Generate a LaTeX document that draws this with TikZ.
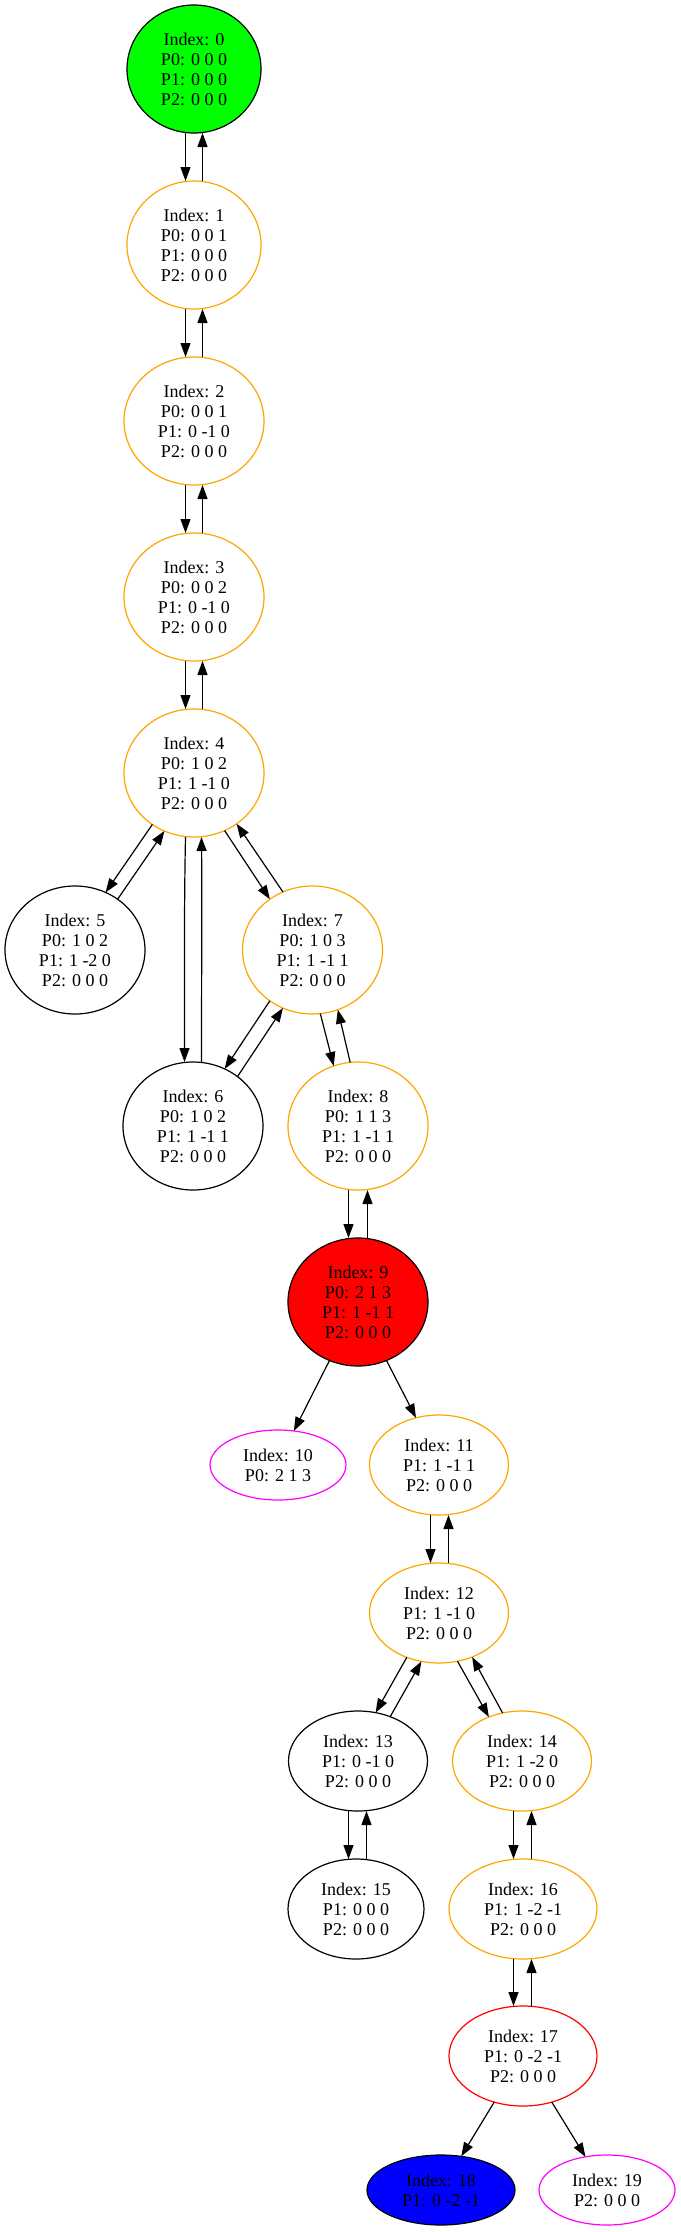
\documentclass[tikz,border=0pt]{standalone}
\usepackage{fontspec}
\setmainfont{Liberation Serif}
\usetikzlibrary{shapes.geometric,arrows.meta}
\definecolor{gvorange}{HTML}{FFA500}
\definecolor{gvgreen}{HTML}{00FF00}
\definecolor{gvred}{HTML}{FF0000}
\definecolor{gvblue}{HTML}{0000FF}
\definecolor{gvmagenta}{HTML}{FF00FF}
\begin{document}
\begin{tikzpicture}[x=1pt,y=-1pt,
  st/.style={ellipse, draw=black, line width=1.2pt, inner sep=0pt, outer sep=0pt,
    align=center, font=\fontsize{18}{20}\selectfont},
  fourz/.style={minimum width=134pt, minimum height=128pt},
  four/.style={minimum width=140pt, minimum height=128pt},
  threez/.style={minimum width=136pt, minimum height=100pt},
  three/.style={minimum width=139pt, minimum height=100pt},
  threew/.style={minimum width=148pt, minimum height=100pt},
  two/.style={minimum width=136pt, minimum height=70pt},
  twow/.style={minimum width=148pt, minimum height=70pt},
  e/.style={-{Triangle[length=14pt,width=10pt]}, line width=1.2pt}]
\useasboundingbox (0,0) rectangle (680,2232);
\node[st,fourz,fill=gvgreen] (n0) at (194,69) {Index: 0\\P0: 0 0 0\\P1: 0 0 0\\P2: 0 0 0};
\node[st,fourz,draw=gvorange] (n1) at (194,245) {Index: 1\\P0: 0 0 1\\P1: 0 0 0\\P2: 0 0 0};
\node[st,four,draw=gvorange] (n2) at (194,421) {Index: 2\\P0: 0 0 1\\P1: 0 -1 0\\P2: 0 0 0};
\node[st,four,draw=gvorange] (n3) at (194,597) {Index: 3\\P0: 0 0 2\\P1: 0 -1 0\\P2: 0 0 0};
\node[st,four,draw=gvorange] (n4) at (194,773) {Index: 4\\P0: 1 0 2\\P1: 1 -1 0\\P2: 0 0 0};
\node[st,four] (n5) at (75,950) {Index: 5\\P0: 1 0 2\\P1: 1 -2 0\\P2: 0 0 0};
\node[st,four] (n6) at (193,1126) {Index: 6\\P0: 1 0 2\\P1: 1 -1 1\\P2: 0 0 0};
\node[st,four,draw=gvorange] (n7) at (312.5,950) {Index: 7\\P0: 1 0 3\\P1: 1 -1 1\\P2: 0 0 0};
\node[st,four,draw=gvorange] (n8) at (358,1126) {Index: 8\\P0: 1 1 3\\P1: 1 -1 1\\P2: 0 0 0};
\node[st,four,fill=gvred] (n9) at (358,1302) {Index: 9\\P0: 2 1 3\\P1: 1 -1 1\\P2: 0 0 0};
\node[st,two,draw=gvmagenta] (n10) at (278,1465) {Index: 10\\P0: 2 1 3};
\node[st,three,draw=gvorange] (n11) at (439,1465) {Index: 11\\P1: 1 -1 1\\P2: 0 0 0};
\node[st,three,draw=gvorange] (n12) at (439,1613) {Index: 12\\P1: 1 -1 0\\P2: 0 0 0};
\node[st,three] (n13) at (358,1761) {Index: 13\\P1: 0 -1 0\\P2: 0 0 0};
\node[st,three,draw=gvorange] (n14) at (522,1761) {Index: 14\\P1: 1 -2 0\\P2: 0 0 0};
\node[st,threez] (n15) at (356,1909) {Index: 15\\P1: 0 0 0\\P2: 0 0 0};
\node[st,threew,draw=gvorange] (n16) at (523,1909) {Index: 16\\P1: 1 -2 -1\\P2: 0 0 0};
\node[st,threew,draw=gvred] (n17) at (523,2056) {Index: 17\\P1: 0 -2 -1\\P2: 0 0 0};
\node[st,twow,fill=gvblue] (n18) at (441,2190) {Index: 18\\P1: 0 -2 -1};
\node[st,two,draw=gvmagenta] (n19) at (607,2190) {Index: 19\\P2: 0 0 0};
% vertical pairs
\draw[e] ([xshift=-8.5pt]n0.south) -- ([xshift=-8.5pt]n1.north);
\draw[e] ([xshift=8.5pt]n1.north) -- ([xshift=8.5pt]n0.south);
\draw[e] ([xshift=-8.5pt]n1.south) -- ([xshift=-8.5pt]n2.north);
\draw[e] ([xshift=8.5pt]n2.north) -- ([xshift=8.5pt]n1.south);
\draw[e] ([xshift=-8.5pt]n2.south) -- ([xshift=-8.5pt]n3.north);
\draw[e] ([xshift=8.5pt]n3.north) -- ([xshift=8.5pt]n2.south);
\draw[e] ([xshift=-8.5pt]n3.south) -- ([xshift=-8.5pt]n4.north);
\draw[e] ([xshift=8.5pt]n4.north) -- ([xshift=8.5pt]n3.south);
% node 4 fan
\draw[e] (n4.231) -- (n5.62);
\draw[e] (n5.50) -- (n4.243);
\draw[e] (n4.298) -- (n7.130);
\draw[e] (n7.117) -- (n4.310);
\draw[e] ([xshift=-8.5pt]n4.south) .. controls +(-1.5,70) and +(0,-70) .. ([xshift=-8.5pt]n6.north);
\draw[e] ([xshift=8.5pt]n6.north) .. controls +(0,-70) and +(0.5,70) .. ([xshift=7.5pt]n4.south);
% node 7
\draw[e] (n7.230) -- (n6.61);
\draw[e] (n6.48) -- (n7.243);
\draw[e] (n7.277) -- (n8.112);
\draw[e] (n8.97) -- (n7.293);
% 8 - 9
\draw[e] ([xshift=-9.5pt]n8.south) -- ([xshift=-9.5pt]n9.north);
\draw[e] ([xshift=9.5pt]n9.north) -- ([xshift=9.5pt]n8.south);
% 9 fan
\draw[e] (n9.244) -- (n10.65);
\draw[e] (n9.296) -- (n11.116);
% 11 - 12
\draw[e] ([xshift=-8.5pt]n11.south) -- ([xshift=-8.5pt]n12.north);
\draw[e] ([xshift=9.5pt]n12.north) -- ([xshift=9.5pt]n11.south);
% 12 fan
\draw[e] (n12.234) -- (n13.70);
\draw[e] (n13.54) -- (n12.250);
\draw[e] (n12.291) -- (n14.127);
\draw[e] (n14.112) -- (n12.307);
% 13 - 15, 14 - 16, 16 - 17
\draw[e] ([xshift=-9.5pt]n13.south) -- ([xshift=-7.5pt]n15.north);
\draw[e] ([xshift=10.5pt]n15.north) -- ([xshift=8.5pt]n13.south);
\draw[e] ([xshift=-8.5pt]n14.south) -- ([xshift=-9.5pt]n16.north);
\draw[e] ([xshift=8.5pt]n16.north) -- ([xshift=9.5pt]n14.south);
\draw[e] ([xshift=-9.5pt]n16.south) -- ([xshift=-9.5pt]n17.north);
\draw[e] ([xshift=8.5pt]n17.north) -- ([xshift=8.5pt]n16.south);
% 17 fan
\draw[e] (n17.238) -- (n18.59);
\draw[e] (n17.302) -- (n19.123);
\end{tikzpicture}
\end{document}
